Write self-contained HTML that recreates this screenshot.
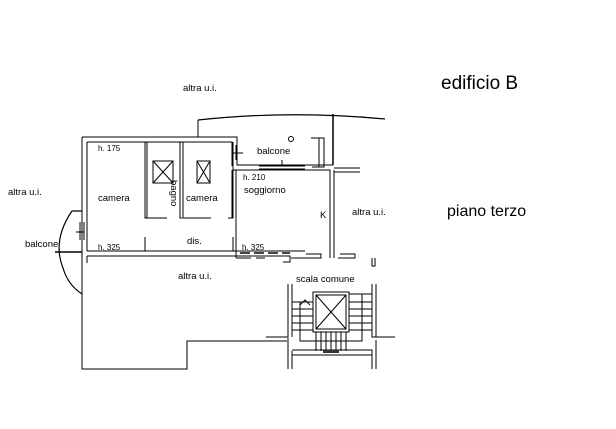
<!DOCTYPE html>
<html><head><meta charset="utf-8"><style>
html,body{margin:0;padding:0;background:#fff;width:616px;height:429px;overflow:hidden}
svg{display:block}
text{font-family:"Liberation Sans",sans-serif;fill:#000}
</style></head><body>
<svg width="616" height="429" viewBox="0 0 616 429" xmlns="http://www.w3.org/2000/svg">
<g fill="none" stroke="#000" stroke-width="1">
<path d="M82 137 H198 V120 M198 137 H237 V165 H333 M82 137 V369 H187 V341 H287"/>
<path d="M198 120 Q290 110 385 119" stroke-width="1.2"/>
<path d="M333 114 V165 M333 120 V165" stroke-width="1.5"/>
<path d="M87 142 V251 M87 142 H232 V166"/>
<path d="M87 251 H305 M87 256 H290 V262 H283"/>
<path d="M87 256 V263"/>
<path d="M145 142 V218 H150 M147 142 V218 H167"/>
<path d="M180 142 V218 H182 M183 142 V218 H211"/>
<path d="M233 142 V218 H228 M233 170 H330 V258 M334 170 V258 M334 168 H360 M334 172 H360"/>
<path d="M312 167 H324 V138 H311 M319 138 V167"/>
<path d="M145 237 V251 M233 237 V251"/>
<path d="M233 166 V170 M236 170 V258 M236 258 H251 M256 258 H265"/>
<path d="M232 170 V218"/>
<path d="M291 258 H321 V254 H306 M338 258 H355 V254 H340"/>
<path d="M372 258 V266 H375 V258"/>
<path d="M259 166 H305 M259 169 H305 M282 160 V166"/>
<path d="M232 145 V160 M236 145 V160 M232 153 H243"/>
<path d="M240 253 H290" stroke="#444" stroke-width="2" stroke-dasharray="10 4"/>
<circle cx="291" cy="139" r="2.5"/>
<rect x="153" y="161" width="20" height="22"/><path d="M153 161 L173 183 M173 161 L153 183"/>
<rect x="197" y="161" width="13" height="22"/><path d="M197 161 L210 183 M210 161 L197 183"/>
<path d="M82 211 H72 Q52 240 63 268 Q68 285 82 294" stroke-width="1.2"/>
<path d="M55 252 H82" stroke-width="1.5"/>
<path d="M80 222 V240 M84 222 V240 M76 232 H84"/>
<path d="M288 284 V337 H266 M292 284 V337 M288 338 V369 M292 351 V369 M292 350 H372 V369 M292 355 H372"/>
<path d="M372 284 V337 H395 M376 284 V337 M376 340 V369"/>
<path d="M313 292 H349 V332 H313 Z M316 295 H346 V329 H316 Z"/>
<path d="M316 295 L346 329 M346 295 L316 329"/>
<path d="M292 302 H313 M292 309 H313 M292 316 H313 M292 323 H313 M292 330 H313 M300 302 V341 H349"/>
<path d="M349 294 H372 M349 302 H372 M349 309 H372 M349 316 H372 M349 323 H372 M349 330 H372 M362 294 V341 H349"/>
<path d="M316 332 V351 M321 332 V351 M326 332 V351 M331 332 V351 M336 332 V351 M341 332 V351 M346 332 V351"/>
<path d="M300 305 L305 300 L310 305"/>
</g>
<rect x="323" y="350" width="16" height="3" fill="#333"/>
<g font-size="9.5">
<text x="183" y="91">altra u.i.</text>
<text x="8" y="195">altra u.i.</text>
<text x="98" y="151" font-size="8">h. 175</text>
<text x="98" y="201">camera</text>
<text x="186" y="201">camera</text>
<text x="171" y="180" transform="rotate(90 171 180)">bagno</text>
<text x="257" y="154">balcone</text>
<text x="243" y="180" font-size="8">h. 210</text>
<text x="244" y="193">soggiorno</text>
<text x="320" y="218">K</text>
<text x="352" y="215">altra u.i.</text>
<text x="187" y="244">dis.</text>
<text x="98" y="250" font-size="8">h. 325</text>
<text x="242" y="250" font-size="8">h. 325</text>
<text x="25" y="247">balcone</text>
<text x="178" y="279">altra u.i.</text>
<text x="296" y="282">scala comune</text>
</g>
<text x="441" y="89" font-size="19">edificio B</text>
<text x="447" y="216" font-size="16">piano terzo</text>
</svg>
</body></html>
